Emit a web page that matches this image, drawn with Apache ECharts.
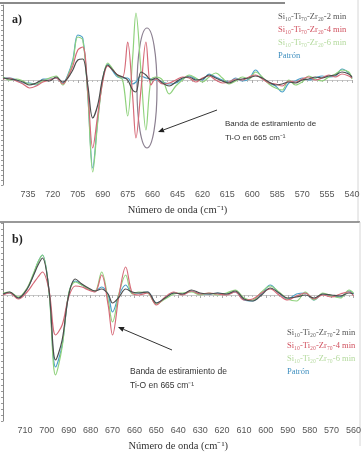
<!DOCTYPE html>
<html><head><meta charset="utf-8">
<script src="https://cdn.jsdelivr.net/npm/echarts@6/dist/echarts.min.js"></script>
<style>html,body{margin:0;padding:0;background:#fff}#c{width:364px;height:461px}</style>
</head><body><div id="c"></div>
<script>
// ---------- Panel a ----------
const wnA = [750,746,742,738,734,730,726,722,718,714,711,708,705,702,699,696,693,690,687,684,681,678,675,672,670,667,664,661,658,654,650,646,642,638,634,630,626,622,618,614,610,606,602,598,594,590,586,582,578,574,570,566,562,558,554,550,546,542,540];
const a2min = [2,1,0,-2,-5,-3,0,-1,3,-2,2,10,20,21,-5,-38,-25,2,15,10,5,3,0,-10,-12,8,5,0,2,-3,-6,-2,2,3,0,1,5,2,-1,-3,0,1,2,4,2,-2,-5,-4,-2,-3,0,1,3,2,4,5,8,6,3];
const a4min = [1,2,-1,-4,-8,-6,-2,0,2,-4,3,14,30,33,-10,-68,-35,-2,14,10,5,3,38,-16,-58,-10,38,-5,1,-4,-3,0,3,2,-2,2,4,0,-3,-2,1,0,3,5,1,-3,-4,-6,-1,-2,1,3,0,2,5,3,6,4,2];
const a6min = [3,0,1,-1,-4,-4,-1,2,4,-5,4,18,43,40,-15,-92,-42,0,17,11,4,0,-36,22,67,9,-50,0,3,0,-14,-6,0,5,2,-2,3,7,2,-4,-1,3,1,8,3,-4,-8,-10,0,-5,-2,4,1,-1,3,6,10,8,1];
const aPatron = [2,2,0,-3,-3,-5,1,1,2,-3,5,20,45,42,-14,-88,-40,1,16,9,3,2,2,-4,-2,4,2,1,0,-2,-4,-3,1,4,1,0,6,3,0,-2,2,-1,1,10,2,-3,-6,-12,-3,-1,2,0,2,4,3,4,11,7,2];
const ticksA = [735,720,705,690,675,660,645,630,615,600,585,570,555,540];
const tickLabelsA = ['735','720','705','690','675','660','645','620','615','600','585','570','555','540'];
const namesA = ['Si\u2081\u2080-Ti\u2087\u2080-Zr\u2082\u2080-2 min','Si\u2081\u2080-Ti\u2087\u2080-Zr\u2082\u2080-4 min','Si\u2081\u2080-Ti\u2087\u2080-Zr\u2082\u2080-6 min','Patrón'];

// ---------- Panel b ----------
const wnB = [720,717,713,709,706,704,702,699,696,693,690,687,684,681,678,675,672,670,667,664,661,658,654,650,646,642,638,634,630,626,622,618,614,610,606,602,598,594,590,586,582,578,574,570,566,562,560];
const b2min = [1,3,-3,6,20,30,37,5,-65,-45,0,16,11,7,4,6,1,-8,-2,6,3,2,3,-8,-3,2,1,5,2,1,2,1,4,-4,-6,0,7,2,-3,-2,0,-3,1,0,-1,2,1];
const b4min = [0,2,-4,3,12,18,23,5,-40,-30,-2,9,8,5,3,20,-10,-40,0,28,2,0,2,-10,-2,3,0,4,1,2,1,0,3,-5,-4,2,6,0,-5,-1,2,-4,0,-2,1,3,-1];
const b6min = [2,3,-2,7,22,33,40,3,-80,-52,2,13,10,6,4,23,-5,-27,2,20,1,3,2,-9,-4,1,2,3,0,2,0,2,5,-3,-5,3,9,3,-4,-6,3,-5,2,-1,-3,5,2];
const bPatron = [1,2,-3,6,21,33,40,4,-72,-50,1,14,10,6,4,8,0,-17,0,10,2,2,3,-8,-3,2,1,4,1,1,2,1,3,-5,-6,1,10,2,-4,1,2,-5,1,-1,-2,4,1];
const ticksB = [710,700,690,680,670,660,650,640,630,620,610,600,590,580,570,560];
const tickLabelsB = ['710','700','690','680','670','660','650','640','630','620','610','600','590','580','570','560'];
const namesB = ['Si\u2081\u2080-Ti\u2082\u2080-Zr\u2087\u2080-2 min','Si\u2081\u2080-Ti\u2082\u2080-Zr\u2087\u2080-4 min','Si\u2081\u2080-Ti\u2082\u2080-Zr\u2087\u2080-6 min','Patrón'];

const lineColors = ['#4d4d4d','#d66a78','#8fd27c','#4aa0c8'];
const legendColors = ['#555555','#d0505e','#b3d99c','#3f8fbf'];

const chart = echarts.init(document.getElementById('c'), null, {renderer:'canvas'});

function xAxisFor(gridIndex, min, max, interval, ticks, labels) {
  return {
    gridIndex, type:'value', inverse:true, min, max, interval,
    axisLine:{show:true, lineStyle:{color:'#c8c8c8', width:1}},
    axisTick:{show:true, inside:false, length:3, lineStyle:{color:'#aaa'}},
    minorTick:{show:true, splitNumber:5, length:2, lineStyle:{color:'#bbb'}},
    splitLine:{show:false},
    axisLabel:{
      margin:5, color:'#555', fontSize:9, fontFamily:'Liberation Sans',
      formatter:v => { const i = ticks.indexOf(v); return i >= 0 ? labels[i] : ''; }
    },
    name:'Número de onda (cm\u207B\u00B9)', nameLocation:'middle', nameGap:20,
    nameTextStyle:{color:'#333', fontSize:10.5, fontFamily:'Liberation Serif'}
  };
}
function yAxisFor(gridIndex, min, max, interval) {
  return {
    gridIndex, type:'value', min, max, interval,
    axisLine:{show:true, lineStyle:{color:'#888', width:1}},
    axisTick:{show:true, length:2, lineStyle:{color:'#999'}},
    axisLabel:{show:false}, splitLine:{show:false}
  };
}
function mkSeries(names, wn, arrs, axisIdx) {
  const out = [];
  [3,2,1,0].forEach(k => {
    out.push({
      type:'line', name:names[k], xAxisIndex:axisIdx, yAxisIndex:axisIdx,
      data: wn.map((w,i)=>[w, arrs[k][i]]),
      showSymbol:false, smooth:0.35, animation:false,
      lineStyle:{color:lineColors[k], width:1.2},
      itemStyle:{color:lineColors[k]}
    });
  });
  return out;
}

function arrow(x1,y1,x2,y2){
  const ang = Math.atan2(y2-y1, x2-x1), L = 6, W = 2.6;
  const bx = x2 - L*Math.cos(ang), by = y2 - L*Math.sin(ang);
  const px = -Math.sin(ang)*W, py = Math.cos(ang)*W;
  return [
    {type:'line', shape:{x1,y1,x2:bx,y2:by}, style:{stroke:'#333', lineWidth:1}},
    {type:'polygon', shape:{points:[[x2,y2],[bx+px,by+py],[bx-px,by-py]]}, style:{fill:'#222'}}
  ];
}

const annFont = '8px "Liberation Sans"';
const legendBase = {orient:'vertical', icon:'none', itemWidth:0, itemHeight:0, itemGap:4, padding:0, selectedMode:false,
  textStyle:{fontSize:8.5, fontFamily:'Liberation Serif'}};
const option = {
  animation:false,
  grid:[
    {left:2, top:5, width:350, height:180},
    {left:3, top:223, width:352, height:198}
  ],
  xAxis:[ xAxisFor(0,540,750,15,ticksA,tickLabelsA), xAxisFor(1,560,720,10,ticksB,tickLabelsB) ],
  yAxis:[ yAxisFor(0,-105,75,5), yAxisFor(1,-126,72,6) ],
  legend:[
    Object.assign({left:273, top:12, data: namesA.map((n,i)=>({name:n, textStyle:{color:legendColors[i]}}))}, legendBase),
    Object.assign({left:282, top:328, data: namesB.map((n,i)=>({name:n, textStyle:{color:legendColors[i]}}))}, legendBase)
  ],
  series: [].concat(
    mkSeries(namesA, wnA, [a2min,a4min,a6min,aPatron], 0),
    mkSeries(namesB, wnB, [b2min,b4min,b6min,bPatron], 1)
  ),
  graphic: [
    {type:'line', shape:{x1:0,y1:3,x2:285,y2:3}, style:{stroke:'#8a8a8a', lineWidth:2}},
    {type:'line', shape:{x1:358,y1:0,x2:358,y2:222}, style:{stroke:'#d6d6d6', lineWidth:1}},
    {type:'line', shape:{x1:0,y1:222,x2:360,y2:222}, style:{stroke:'#777', lineWidth:1.5}},
    {type:'line', shape:{x1:360,y1:222,x2:360,y2:446}, style:{stroke:'#d6d6d6', lineWidth:1}},
    {type:'text', left:12, top:14, style:{text:'a)', font:'bold 12px "Liberation Serif"', fill:'#222'}},
    {type:'text', left:12, top:234, style:{text:'b)', font:'bold 12px "Liberation Serif"', fill:'#222'}},
    {type:'ellipse', shape:{cx:147, cy:88, rx:10, ry:60}, style:{fill:null, stroke:'#8c8091', lineWidth:1.2}},
    {type:'text', left:225, top:120, style:{text:'Banda de estiramiento de', font:annFont, fill:'#333'}},
    {type:'text', left:225, top:134, style:{text:'Ti-O en 665 cm\u207B\u00B9', font:annFont, fill:'#333'}},
    {type:'text', left:130, top:367, style:{text:'Banda de estiramiento de', font:'8.5px "Liberation Sans"', fill:'#333'}},
    {type:'text', left:130, top:381, style:{text:'Ti-O en 665 cm\u207B\u00B9', font:'8.5px "Liberation Sans"', fill:'#333'}}
  ].concat(arrow(217,110,158,132), arrow(172,350,118,327))
};
chart.setOption(option);
</script>
</body></html>
